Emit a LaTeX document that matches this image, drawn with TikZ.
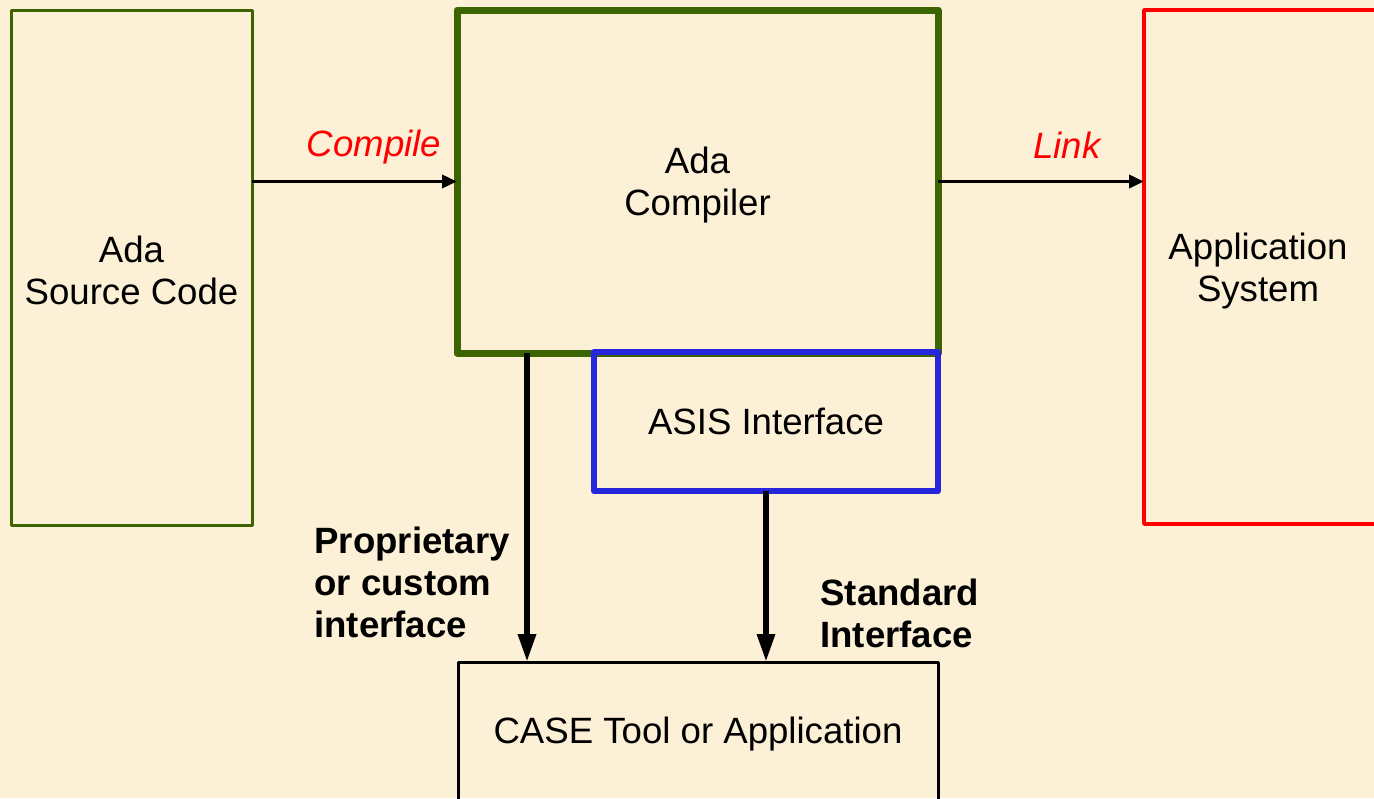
\documentclass[tikz,border=0pt]{standalone}
\usepackage{fontspec}
\setmainfont{Liberation Sans}
\usetikzlibrary{arrows.meta}
\definecolor{bgcream}{RGB}{252,240,214}
\definecolor{boxgreen}{RGB}{60,100,0}
\definecolor{boxblue}{RGB}{38,38,220}
\definecolor{boxred}{RGB}{255,0,0}
\begin{document}
\begin{tikzpicture}[x=0.5pt,y=-0.5pt,
  txt/.style={font=\fontsize{18.3}{21}\selectfont, align=center, inner sep=0pt},
  boldtxt/.style={font=\fontsize{18.3}{21}\selectfont\bfseries, align=left, inner sep=0pt, anchor=west},
  redlbl/.style={font=\fontsize{18.3}{21}\selectfont\itshape, text=boxred, inner sep=0pt},
  box/.style={draw, inner sep=0pt, outer sep=0pt, line join=round},
  thinarrow/.style={draw=black, line width=1.8pt, -{Triangle[length=7.5pt,width=6.5pt]}},
  thickarrow/.style={draw=black, line width=3pt, -{Triangle[length=14pt,width=8.5pt]}}]
\fill[bgcream] (0,0) rectangle (1374,798);
\useasboundingbox (0,0) rectangle (1374,798);
% boxes
\node[box, draw=boxgreen, line width=1.5pt, minimum width=120.5pt, minimum height=257.5pt] (src) at (131.5,267.5) {};
\node[txt] (srclbl) at (131.5,270.5) {Ada\\Source Code};
\node[box, draw=boxgreen, line width=3.5pt, minimum width=240.5pt, minimum height=171.5pt] (comp) at (697.5,181.5) {};
\node[txt] (complbl) at (697.5,185.5) {Ada\\Compiler};
\node[box, draw=boxblue, line width=3pt, minimum width=172pt, minimum height=69.5pt, txt] (asis) at (766,421.5) {ASIS Interface};
\node[box, draw=boxred, line width=1.8pt, minimum width=125pt, minimum height=257pt] (app) at (1269,267) {};
\node[txt] (applbl) at (1258,271) {Application\\System};
\node[box, draw=black, line width=1.5pt, minimum width=240pt, minimum height=69pt] (case) at (698,731) {};
\node[txt] (caselbl) at (698,734) {CASE Tool or Application};
% connectors
\coordinate (a1x) at (527,0);
\draw[thinarrow] (src.east |- comp) -- (comp.west)
  node[redlbl, pos=0.595, yshift=17pt] (compilelbl) {Compile};
\draw[thinarrow] (comp.east) -- (app.west |- comp)
  node[redlbl, pos=0.626, yshift=18pt] (linklbl) {Link};
\draw[thickarrow] (comp.south -| a1x) -- (case.north -| a1x);
\draw[thickarrow] (asis.south) -- (case.north -| asis.south);
% labels
\node[boldtxt] (proplbl) at (314,582) {Proprietary\\or custom\\interface};
\node[boldtxt] (stdlbl) at (820,613.5) {Standard\\Interface};
\end{tikzpicture}
\end{document}
